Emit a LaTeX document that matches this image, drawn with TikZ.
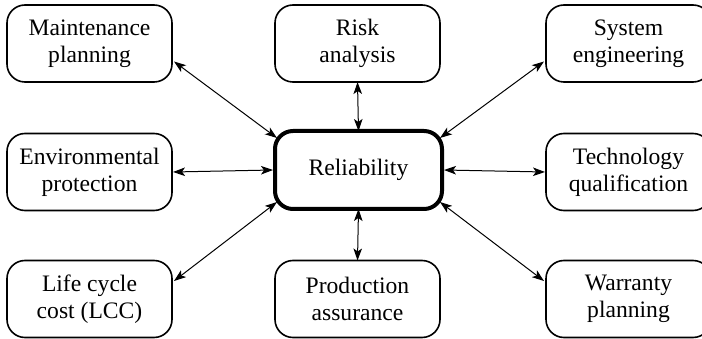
\documentclass[tikz,border=0pt]{standalone}
\usepackage{fontspec}
\setmainfont{Liberation Serif}
\usetikzlibrary{arrows.meta}
\begin{document}
\begin{tikzpicture}[x=1pt,y=-1pt,
  box/.style={draw, rounded corners=18pt, line width=1.6pt,
    minimum width=165pt, minimum height=77pt, align=center,
    outer sep=0pt, inner sep=0pt,
    font=\fontsize{23.6}{27}\selectfont},
  core/.style={box, line width=4pt, minimum width=167pt, minimum height=78pt},
  tip/.tip={Stealth[length=12pt,width=8.5pt,inset=3pt]},
  link/.style={tip-tip, line width=1pt}]
\clip (0,0) rectangle (702,339);

% central node
\node[core] (rel) at (358.5,170) {Reliability};

% surrounding disciplines
\node[box] (mp)  at (89.5,43.5)  {Maintenance\\planning};
\node[box] (ra)  at (357.5,43.5) {Risk\\analysis};
\node[box] (se)  at (628.5,43.5) {System\\engineering};
\node[box] (ep)  at (89.5,172)   {Environmental\\protection};
\node[box] (tq)  at (628.5,172)  {Technology\\qualification};
\node[box] (lcc) at (89.5,299)   {Life cycle\\cost (LCC)};
\node[box] (pa)  at (357.5,299)  {Production\\assurance};
\node[box] (wp)  at (628.5,299)  {Warranty\\planning};

% two-way links
\draw[link] ([xshift=2pt,yshift=-18pt]mp.east) -- ([xshift=2pt,yshift=-7pt]rel.north west);
\draw[link] (ra.south) -- (rel.north);
\draw[link] ([xshift=-2pt,yshift=-18pt]se.west) -- ([xshift=-2pt,yshift=-7pt]rel.north east);
\draw[link] ([xshift=1pt]ep.east) -- ([xshift=-2pt]rel.west);
\draw[link] ([xshift=-1pt]tq.west) -- ([xshift=2pt]rel.east);
\draw[link] ([xshift=2pt,yshift=18pt]lcc.east) -- ([xshift=2pt,yshift=7pt]rel.south west);
\draw[link] (pa.north) -- (rel.south);
\draw[link] ([xshift=-2pt,yshift=18pt]wp.west) -- ([xshift=-2pt,yshift=7pt]rel.south east);
\end{tikzpicture}
\end{document}
